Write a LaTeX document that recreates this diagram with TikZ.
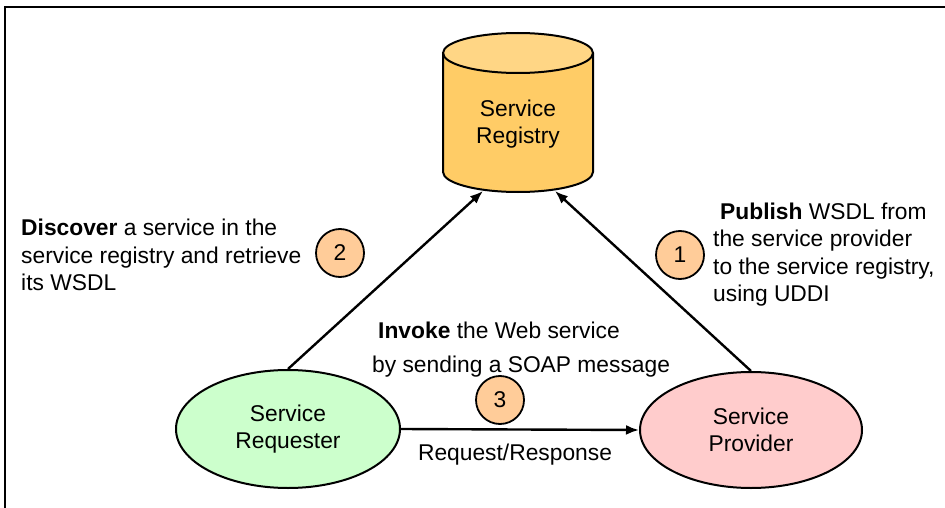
\documentclass[tikz,border=0pt]{standalone}
\usepackage{fontspec}
\setmainfont{Liberation Sans}
\usetikzlibrary{shapes.geometric,arrows.meta}
\definecolor{regbody}{HTML}{FFCC66}
\definecolor{regtop}{HTML}{FFD685}
\definecolor{reqfill}{HTML}{CCFFCC}
\definecolor{provfill}{HTML}{FFCCCC}
\definecolor{stepfill}{HTML}{FFCC99}
\begin{document}
\begin{tikzpicture}[x=1pt,y=-1pt,
  font=\fontsize{22.8}{27.5}\selectfont,
  party/.style={ellipse,draw,line width=2pt,inner sep=0pt,align=center},
  stepmark/.style={circle,draw,fill=stepfill,line width=1.8pt,minimum size=48pt,inner sep=0pt},
  note/.style={align=left,inner sep=0pt},
  flow/.style={line width=2.4pt,-{Latex[length=13pt,width=10pt]}}]
\useasboundingbox (0,0) rectangle (945,508);
% open frame
\draw[line width=1.5pt] (5,508) -- (5,7) -- (945,7);

% registry drum
\fill[regbody] (443,53) -- (443,172) arc[start angle=180,end angle=360,x radius=75pt,y radius=20pt] -- (593,53) -- cycle;
\draw[line width=2pt,fill=regtop] (518,53) ellipse [x radius=75pt,y radius=20pt];
\draw[line width=2pt] (443,53) -- (443,172) arc[start angle=180,end angle=360,x radius=75pt,y radius=20pt] -- (593,53);
\node[align=center,inner sep=0pt] (reg) at (518,124) {Service\\Registry};
\coordinate (regL) at (483,191);
\coordinate (regR) at (555,191);

% parties
\node[party,fill=reqfill,minimum width=224pt,minimum height=118pt] (req) at (288,429) {Service\\Requester};
\node[party,fill=provfill,minimum width=222pt,minimum height=116pt] (prov) at (751,430) {Service\\Provider};

% interactions
\draw[flow] (req.north) -- (regL);
\draw[flow] (prov.north) -- (regR);
\draw[flow] (req.east) -- (prov.west);

% step markers
\node[stepmark] (s1) at (680,255) {1};
\node[stepmark] (s2) at (340,253) {2};
\node[stepmark] (s3) at (500,400) {3};

% descriptions
\node[note,anchor=west] (discover) at (21,255)
  {\textbf{Discover} a service in the\\service registry and retrieve\\its WSDL};
\node[note,anchor=west] (publish) at (713,254.5)
  {\hspace{7pt}\textbf{Publish} WSDL from\\the service provider\\to the service registry,\\using UDDI};
\node[note,anchor=west,font=\fontsize{22.8}{34}\selectfont] (invoke) at (372,350)
  {\hspace{6pt}\textbf{Invoke} the Web service\\by sending a SOAP message};
\node[inner sep=0pt] (rr) at (515,455) {Request/Response};
\end{tikzpicture}
\end{document}
